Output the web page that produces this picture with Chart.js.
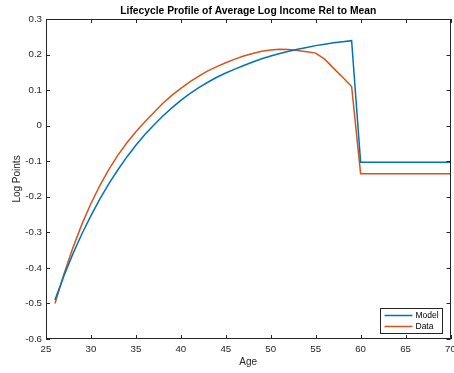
<!DOCTYPE html>
<html>
<head>
<meta charset="utf-8">
<script src="https://cdn.jsdelivr.net/npm/chart.js@4/dist/chart.umd.min.js"></script>
<style>
  body { margin: 0; background: #fff; }
  #wrap { width: 454px; height: 373px; }
</style>
</head>
<body>
<div id="wrap"><canvas id="c" width="454" height="373"></canvas></div>
<script>
// ages on the x axis
var ages = [26, 27, 28, 29, 30, 31, 32, 33, 34, 35, 36, 37, 38, 39, 40,
            41, 42, 43, 44, 45, 46, 47, 48, 49, 50, 51, 52, 53, 54, 55,
            56, 57, 58, 59, 60, 61, 62, 63, 64, 65, 66, 67, 68, 69, 70];

var modelVals = [-0.490, -0.422, -0.360, -0.304, -0.253, -0.206, -0.163, -0.124, -0.088, -0.055,
                 -0.025, 0.002, 0.027, 0.050, 0.071, 0.090, 0.107, 0.122, 0.136, 0.148,
                 0.159, 0.169, 0.179, 0.188, 0.196, 0.203, 0.209, 0.215, 0.220, 0.225,
                 0.229, 0.233, 0.236, 0.239, -0.103, -0.103, -0.103, -0.103, -0.103, -0.103,
                 -0.103, -0.103, -0.103, -0.103, -0.103];

var dataVals = [-0.500, -0.417, -0.343, -0.277, -0.219, -0.168, -0.123, -0.083, -0.048, -0.017,
                0.011, 0.037, 0.063, 0.085, 0.105, 0.123, 0.139, 0.154, 0.166, 0.177,
                0.187, 0.196, 0.203, 0.209, 0.213, 0.215, 0.214, 0.211, 0.208, 0.204,
                0.187, 0.161, 0.136, 0.110, -0.135, -0.135, -0.135, -0.135, -0.135, -0.135,
                -0.135, -0.135, -0.135, -0.135, -0.135];

var xTicks = [25, 30, 35, 40, 45, 50, 55, 60, 65, 70];
var yTicks = [-0.6, -0.5, -0.4, -0.3, -0.2, -0.1, 0, 0.1, 0.2, 0.3];

var axisColor = '#262626';
var fontFam = "'Liberation Sans', Arial, Helvetica, sans-serif";

function points(vals) {
    var out = [];
    for (var i = 0; i < ages.length; i++) {
        out.push({x: ages[i], y: vals[i]});
    }
    return out;
}

// matlab style box with inward ticks, plus legend in the lower right
var matlabAxes = {
    id: 'matlabAxes',
    afterDraw: function(chart) {
        var ctx = chart.ctx;
        var a = chart.chartArea;
        var xs = chart.scales.x, ys = chart.scales.y;
        var tl = 4;
        ctx.save();
        ctx.strokeStyle = axisColor;
        ctx.lineWidth = 1;
        ctx.beginPath();
        xTicks.forEach(function(v) {
            var px = Math.round(xs.getPixelForValue(v)) + 0.5;
            ctx.moveTo(px, a.bottom); ctx.lineTo(px, a.bottom - tl);
            ctx.moveTo(px, a.top); ctx.lineTo(px, a.top + tl);
        });
        yTicks.forEach(function(v) {
            var py = Math.round(ys.getPixelForValue(v)) + 0.5;
            ctx.moveTo(a.left, py); ctx.lineTo(a.left + tl, py);
            ctx.moveTo(a.right, py); ctx.lineTo(a.right - tl, py);
        });
        ctx.stroke();
        ctx.strokeRect(Math.round(a.left) + 0.5, Math.round(a.top) + 0.5,
                       Math.round(a.right - a.left) - 1, Math.round(a.bottom - a.top) - 1);

        // legend
        var lw = 62, lh = 25;
        var lx = Math.round(a.right - 9 - lw) + 0.5;
        var ly = Math.round(a.bottom - 6 - lh) + 0.5;
        ctx.fillStyle = '#fff';
        ctx.fillRect(lx, ly, lw, lh);
        ctx.strokeStyle = axisColor;
        ctx.strokeRect(lx, ly, lw, lh);
        ctx.font = '8.5px ' + fontFam;
        ctx.textBaseline = 'middle';
        ctx.textAlign = 'left';
        chart.data.datasets.forEach(function(ds, i) {
            var yy = ly + 7 + i * 11;
            ctx.strokeStyle = ds.borderColor;
            ctx.lineWidth = 1.5;
            ctx.beginPath();
            ctx.moveTo(lx + 4, yy);
            ctx.lineTo(lx + 32, yy);
            ctx.stroke();
            ctx.fillStyle = '#000';
            ctx.fillText(ds.label, lx + 35, yy + 0.5);
        });
        ctx.restore();
    }
};

var ctx = document.getElementById('c').getContext('2d');
var chart = new Chart(ctx, {
    type: 'line',
    data: {
        datasets: [
            {label: 'Model', data: points(modelVals), borderColor: '#0072BD', borderWidth: 1.5,
             pointRadius: 0, tension: 0, fill: false},
            {label: 'Data', data: points(dataVals), borderColor: '#D95319', borderWidth: 1.5,
             pointRadius: 0, tension: 0, fill: false}
        ]
    },
    options: {
        responsive: false,
        animation: false,
        layout: {padding: {left: 0, right: 3.5, top: 0, bottom: 0}},
        plugins: {
            legend: {display: false},
            tooltip: {enabled: false},
            title: {
                display: true,
                fullSize: false,
                text: 'Lifecycle Profile of Average Log Income Rel to Mean',
                color: '#000',
                font: {family: fontFam, size: 10.3, weight: 'bold'},
                padding: {top: 4.6, bottom: 2}
            }
        },
        scales: {
            x: {
                type: 'linear',
                min: 25, max: 70,
                afterBuildTicks: function(s) { s.ticks = xTicks.map(function(v) { return {value: v}; }); },
                afterFit: function(s) { s.height = 34; s.paddingLeft = 0; s.paddingRight = 0; },
                grid: {display: false, drawTicks: false},
                border: {display: false},
                ticks: {
                    color: axisColor, padding: 5, maxRotation: 0, autoSkip: false,
                    font: {family: fontFam, size: 9.7},
                    callback: function(v) { return String(v); }
                },
                title: {display: true, text: 'Age', color: axisColor,
                        font: {family: fontFam, size: 10}, padding: {top: 0, bottom: 5}}
            },
            y: {
                type: 'linear',
                min: -0.6, max: 0.3,
                afterBuildTicks: function(s) { s.ticks = yTicks.map(function(v) { return {value: v}; }); },
                afterFit: function(s) { s.width = 46; s.paddingTop = 0; s.paddingBottom = 0; },
                grid: {display: false, drawTicks: false},
                border: {display: false},
                ticks: {
                    color: axisColor, padding: 4, autoSkip: false,
                    font: {family: fontFam, size: 9.7},
                    callback: function(v) { return String(v); }
                },
                title: {display: true, text: 'Log Points', color: axisColor,
                        font: {family: fontFam, size: 10}, padding: {top: 11, bottom: 0}}
            }
        }
    },
    plugins: [matlabAxes]
});
</script>
</body>
</html>
